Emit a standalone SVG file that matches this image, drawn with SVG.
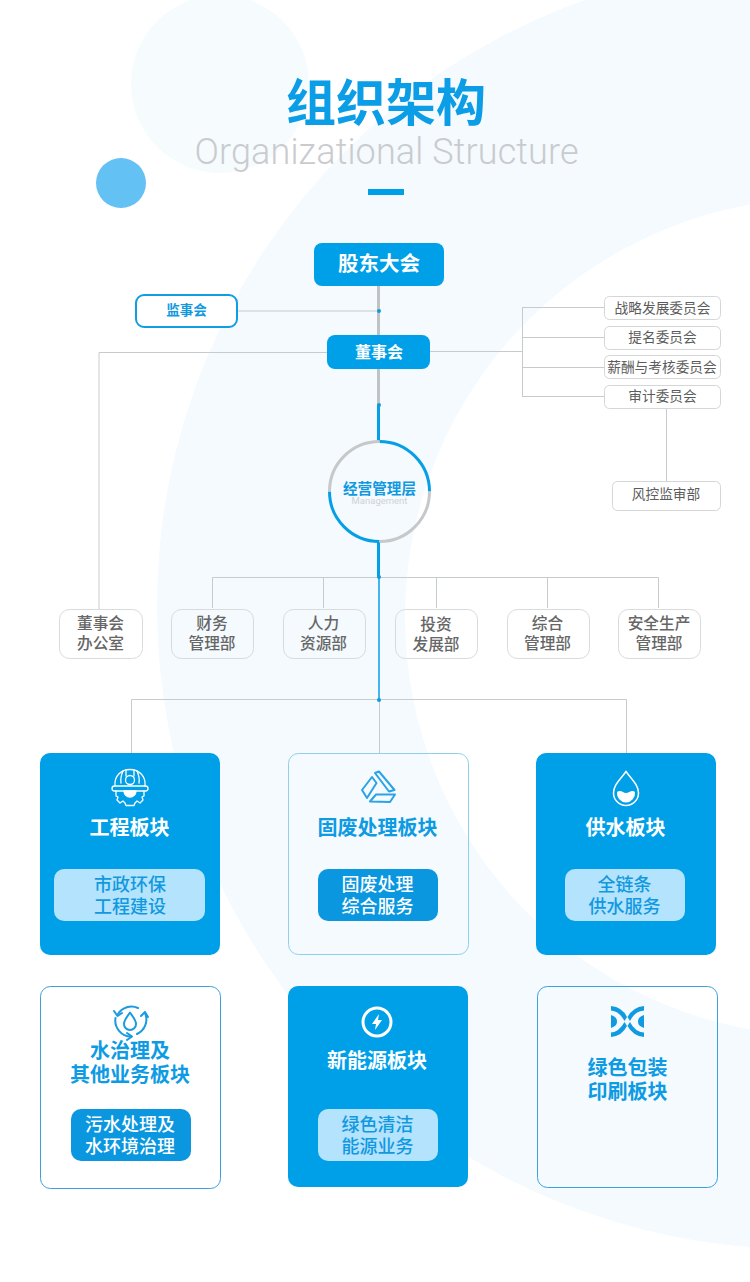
<svg xmlns="http://www.w3.org/2000/svg" width="750" height="1282" viewBox="0 0 750 1282">
<style>
text{font-family:"Noto Sans CJK SC","Noto Sans",sans-serif;text-anchor:middle}
.b{fill:#00a0e9}
.pale{fill:#b3e3fd}
.lnk{fill:none;stroke:#c6cbce;stroke-width:1}
.thk{fill:none;stroke:#c0c2c4;stroke-width:3}
.blu{fill:none;stroke:#059fe6;stroke-width:3}
.dot{fill:#0e9bdf}
.box{fill:#fff;stroke:#d4d6d8;stroke-width:1}
.dep{fill:none;stroke:#d8dadc;stroke-width:1}
.tc{font-size:13.700px;fill:#5c5c5c}
.td{font-size:15.700px;fill:#666;font-weight:500}
.th{font-size:20px;font-weight:700}
.ts{font-size:18px;font-weight:500}
.w{fill:#fff}
.c{fill:#1199e0}
.iw{fill:none;stroke:#fff;stroke-width:1.300;stroke-linejoin:round;stroke-linecap:round}
.ib{fill:none;stroke:#2ba3e4;stroke-width:2;stroke-linejoin:round;stroke-linecap:round}
</style>
<g id="background">
<rect width="750" height="1282" fill="#fff"/>
<circle cx="800" cy="606" r="643" fill="#f4fafe"/>
<circle cx="824" cy="617" r="419" fill="#fff"/>
<circle cx="220" cy="84" r="89" fill="#f6fbfe"/>
<circle cx="121" cy="183" r="25" fill="#64c1f4"/>
</g>
<g id="title">
<text x="386" y="121" font-size="50" font-weight="700" fill="#0b9de5">组织架构</text>
<text x="386.500" y="164" font-size="36" textLength="384" fill="#c9cbce" style="font-family:Roboto,sans-serif;font-weight:300">Organizational Structure</text>
<rect x="368" y="189" width="36" height="6" class="b"/>
</g>
<g id="connectors">
<path class="lnk" d="M238 311H378M327 352.500H99V609M430 351.500H522M522.500 307.500V396.500M522 307.500H604M522 337.500H604M522 367.500H604M522 396.500H604M666.500 408V481"/>
<path class="thk" d="M378.500 286V335M378.500 369V405"/>
<path class="blu" d="M378.500 405V441M378.500 542V578"/>
<path class="lnk" d="M212.500 608V577.500H658.500V608M323.500 577.500V608M436.500 577.500V608M547.500 577.500V608M131.500 753V699.500H626.500V753M379.500 700V753"/>
<path fill="none" stroke="#059fe6" stroke-width="1.500" d="M379 578V700"/>
<circle class="dot" cx="379" cy="311" r="2"/>
<circle class="dot" cx="379" cy="405" r="2"/>
<circle class="dot" cx="379" cy="577" r="2"/>
<circle class="dot" cx="379" cy="700" r="2"/>
</g>
<g id="node-gudong"><rect x="314" y="243" width="130" height="43" rx="8" class="b"/><text x="379" y="271" font-size="20.500" font-weight="700" fill="#fff">股东大会</text></g>
<g id="node-jianshi"><rect x="136" y="295" width="101" height="32" rx="8" fill="#fff" stroke="#0f9de4" stroke-width="2"/><text x="186.500" y="315" font-size="13.500" font-weight="700" class="c">监事会</text></g>
<g id="node-dongshi"><rect x="327" y="335" width="103" height="34" rx="8" class="b"/><text x="379" y="358" font-size="16" font-weight="700" fill="#fff">董事会</text></g>
<g id="node-c1"><rect x="604.500" y="296.500" width="116" height="23" rx="5" class="box"/><text x="662.500" y="313" class="tc">战略发展委员会</text></g>
<g id="node-c2"><rect x="604.500" y="326.500" width="116" height="23" rx="5" class="box"/><text x="662.500" y="342" class="tc">提名委员会</text></g>
<g id="node-c3"><rect x="604.500" y="355.500" width="116" height="23" rx="5" class="box"/><text x="662" y="372" class="tc">薪酬与考核委员会</text></g>
<g id="node-c4"><rect x="604.500" y="385.500" width="116" height="23" rx="5" class="box"/><text x="662.500" y="401" class="tc">审计委员会</text></g>
<g id="node-risk"><rect x="612.500" y="481.500" width="108" height="29" rx="5" class="box"/><text x="666" y="499" class="tc">风控监审部</text></g>
<g id="node-mgmt">
<path d="M379.500 441.500A50 50 0 0 1 429.500 491.500M379.500 541.500A50 50 0 0 1 329.500 491.500" class="blu"/>
<path d="M429.500 491.500A50 50 0 0 1 379.500 541.500M329.500 491.500A50 50 0 0 1 379.500 441.500" fill="none" stroke="#c6c8ca" stroke-width="3"/>
<text x="379.500" y="494" font-size="14.600" font-weight="700" class="c">经营管理层</text>
<text x="379.500" y="503.500" font-size="9.500" fill="#cfd2d5" style="font-family:Roboto,sans-serif">Management</text>
</g>
<g id="dept-1"><rect x="59.500" y="609.500" width="83" height="49" rx="10" class="dep"/><text class="td"><tspan x="100.500" y="629">董事会</tspan><tspan x="100.500" y="649">办公室</tspan></text></g>
<g id="dept-2"><rect x="171.500" y="609.500" width="82" height="49" rx="10" class="dep"/><text class="td"><tspan x="212" y="629">财务</tspan><tspan x="212" y="649">管理部</tspan></text></g>
<g id="dept-3"><rect x="283.500" y="609.500" width="82" height="49" rx="10" class="dep"/><text class="td"><tspan x="323.500" y="629">人力</tspan><tspan x="323.500" y="649">资源部</tspan></text></g>
<g id="dept-4"><rect x="395.500" y="609.500" width="82" height="49" rx="10" class="dep"/><text class="td"><tspan x="436" y="630">投资</tspan><tspan x="436" y="650">发展部</tspan></text></g>
<g id="dept-5"><rect x="507.500" y="609.500" width="82" height="49" rx="10" class="dep"/><text class="td"><tspan x="547.500" y="629">综合</tspan><tspan x="547.500" y="649">管理部</tspan></text></g>
<g id="dept-6"><rect x="618.500" y="609.500" width="82" height="49" rx="10" class="dep"/><text class="td"><tspan x="659" y="629">安全生产</tspan><tspan x="659" y="649">管理部</tspan></text></g>

<g id="card-engineering">
<rect x="40" y="753" width="180" height="202" rx="10" class="b"/>
<g class="iw">
<path d="M115 786C114 776 121 769.500 130 769.500C139 769.500 146 776 145 786"/>
<path d="M114.500 786H145.500Q148 786 148 788.500Q148 791 145.500 791H114.500Q112 791 112 788.500Q112 786 114.500 786Z"/>
<path d="M123 771Q120 778 121 783M137 771Q140 778 139 783M126 770V776M134 770V776"/>
<circle cx="130" cy="780" r="4.500"/>
<path d="M116 791V796L118 797L117 800L120 803L123 801L125 803L126 805.500H134L135 803L137 801L140 803L143 800L142 797L144 796V791"/>
<path d="M124 791A6 6 0 0 0 136 791Z" fill="#fff"/>
</g>
<text x="129.500" y="835" class="th w">工程板块</text>
<rect x="54" y="869" width="151" height="52" rx="10" class="pale"/>
<text class="ts c"><tspan x="130" y="891">市政环保</tspan><tspan x="130" y="913">工程建设</tspan></text>
</g>
<g id="card-waste">
<rect x="288.500" y="753.500" width="180" height="201" rx="10" fill="none" stroke="#8ed0ec"/>
<g class="ib">
<path d="M375 773L379 771.500L394.500 790L389 791.500Z"/>
<path d="M362 790L372 777L376.500 783L367 798Z"/>
<path d="M370 801.500L376 794.500H395L390 802Z"/>
</g>
<text x="377.500" y="835" class="th" fill="#0d9be3">固废处理板块</text>
<rect x="318" y="869" width="120" height="52" rx="10" fill="#0a97e0"/>
<text class="ts w"><tspan x="377.500" y="891">固废处理</tspan><tspan x="377.500" y="913">综合服务</tspan></text>
</g>
<g id="card-water">
<rect x="536" y="753" width="180" height="202" rx="10" class="b"/>
<path d="M626 771.500C632 780 638.500 785 638.500 793A12.500 12.500 0 0 1 613.500 793C613.500 785 620 780 626 771.500Z" fill="none" stroke="#fff" stroke-width="1.500"/>
<path d="M617 792C621 789 623 793 626 793C629 793 632 789 635 792A9.500 9.500 0 0 1 626 802.500A9.500 9.500 0 0 1 617 792Z" fill="#fff"/>
<text x="625.500" y="835" class="th w">供水板块</text>
<rect x="565" y="869" width="120" height="52" rx="10" class="pale"/>
<text class="ts c"><tspan x="624.500" y="891">全链条</tspan><tspan x="624.500" y="913">供水服务</tspan></text>
</g>
<g id="card-treatment">
<rect x="40.500" y="986.500" width="180" height="202" rx="10" fill="#fff" stroke="#3ba0db"/>
<g fill="none" stroke="#1a9be0" stroke-width="2" stroke-linecap="round" stroke-linejoin="round">
<path d="M118 1014A16 16 0 0 1 138 1008M145 1013A16 16 0 0 1 137 1034M131 1036.500A16 16 0 0 1 115.500 1018"/>
<path d="M114 1011L117.500 1016L122 1013M141 1016L145 1012L148 1017M127 1033L132 1036.500L127 1040"/>
<path d="M130 1012.500C133 1017 136 1020 136 1024A6 6 0 0 1 124 1024C124 1020 127 1017 130 1012.500Z"/>
</g>
<text class="th" fill="#0d9be3"><tspan x="130" y="1058">水治理及</tspan><tspan x="130" y="1082">其他业务板块</tspan></text>
<rect x="71" y="1109" width="120" height="52" rx="10" fill="#0a97e0"/>
<text class="ts w"><tspan x="130" y="1131">污水处理及</tspan><tspan x="130" y="1153">水环境治理</tspan></text>
</g>
<g id="card-energy">
<rect x="288" y="986" width="180" height="201" rx="10" class="b"/>
<circle cx="377" cy="1022" r="14" fill="none" stroke="#fff" stroke-width="3"/>
<path d="M379 1014L372 1024H376L375 1030L382 1020H378Z" fill="#fff"/>
<text x="377" y="1068" class="th w">新能源板块</text>
<rect x="318" y="1109" width="120" height="52" rx="10" class="pale"/>
<text class="ts c"><tspan x="377.500" y="1131">绿色清洁</tspan><tspan x="377.500" y="1153">能源业务</tspan></text>
</g>
<g id="card-printing">
<rect x="537.500" y="986.500" width="180" height="201" rx="10" fill="none" stroke="#3ba0db"/>
<g fill="#0f9ae2">
<path d="M611 1006Q622 1007 627 1017L624.500 1021Q619 1011 611 1010.500Z"/>
<path d="M644 1006Q633 1007 627.500 1017L630 1021Q635 1011 644 1010.500Z"/>
<path d="M611 1037Q622 1036 627 1026L624.500 1022Q619 1032 611 1032.500Z"/>
<path d="M644 1037Q633 1036 627.500 1026L630 1022Q635 1032 644 1032.500Z"/>
<path d="M611 1015Q617 1017 617 1021.500Q617 1026 611 1028Z"/>
<path d="M644 1015Q638 1017 638 1021.500Q638 1026 644 1028Z"/>
</g>
<text class="th" fill="#0d9be3"><tspan x="627.500" y="1075">绿色包装</tspan><tspan x="627.500" y="1099">印刷板块</tspan></text>
</g>
</svg>
